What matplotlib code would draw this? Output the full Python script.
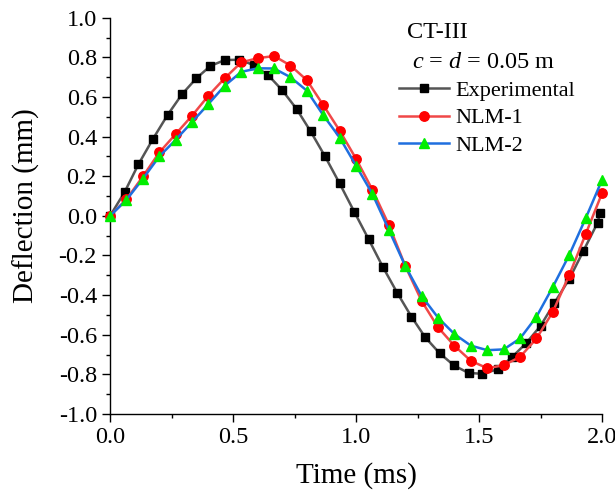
import numpy as np
import matplotlib
matplotlib.use('Agg')
import matplotlib.pyplot as plt
from matplotlib.ticker import MultipleLocator, FormatStrFormatter

plt.rcParams['font.family'] = ['Liberation Serif', 'DejaVu Serif']
plt.rcParams['mathtext.fontset'] = 'custom'
plt.rcParams['mathtext.rm'] = 'Liberation Serif'
plt.rcParams['mathtext.it'] = 'Liberation Serif:italic'

t_exp = [0, 0.059, 0.115, 0.175, 0.234, 0.293, 0.351, 0.408, 0.467, 0.525,
         0.583, 0.643, 0.700, 0.758, 0.815, 0.874, 0.933, 0.992, 1.051, 1.108,
         1.167, 1.225, 1.281, 1.340, 1.398, 1.457, 1.513, 1.575, 1.633, 1.691,
         1.750, 1.805, 1.867, 1.924, 1.982, 1.992]
y_exp = [0, 0.12, 0.26, 0.39, 0.51, 0.615, 0.695, 0.757, 0.787, 0.788,
         0.762, 0.710, 0.634, 0.540, 0.427, 0.300, 0.164, 0.022, -0.118, -0.256,
         -0.388, -0.509, -0.613, -0.694, -0.755, -0.793, -0.797, -0.775, -0.714, -0.643,
         -0.555, -0.442, -0.318, -0.177, -0.034, 0.017]

# NLM models, sampled every 1/15 ms
t_nlm = [k / 15 for k in range(31)]
y_nlm1 = [0, 0.084, 0.199, 0.320, 0.413, 0.506, 0.607, 0.696, 0.775, 0.796,
          0.807, 0.759, 0.685, 0.559, 0.430, 0.288, 0.131, -0.046, -0.253, -0.430,
          -0.563, -0.656, -0.732, -0.769, -0.754, -0.712, -0.619, -0.484, -0.298, -0.092,
          0.115]
y_nlm2 = [0, 0.081, 0.187, 0.300, 0.384, 0.474, 0.565, 0.658, 0.727, 0.745,
          0.744, 0.700, 0.632, 0.508, 0.395, 0.253, 0.110, -0.071, -0.253, -0.405,
          -0.514, -0.597, -0.655, -0.678, -0.674, -0.619, -0.509, -0.358, -0.197, -0.012,
          0.182]

fig = plt.figure(figsize=(6.15, 4.94), dpi=100)
ax = fig.add_axes([0.179, 0.162, 0.800, 0.802])

ax.plot(t_exp, y_exp, color='#555555', lw=1.8, marker='s', ms=6,
        mfc='black', mec='black', label='Experimental', clip_on=False, zorder=3)
ax.plot(t_nlm, y_nlm1, color='#f04848', lw=1.8, marker='o', ms=6.8,
        mfc='#ff0000', mec='#ff0000', label='NLM-1', clip_on=False, zorder=4)
ax.plot(t_nlm, y_nlm2, color='#1f6fdf', lw=1.8, marker='^', ms=7.5,
        mfc='#00ee00', mec='#00ee00', label='NLM-2', clip_on=False, zorder=5)

ax.set_xlim(0, 2.0)
ax.set_ylim(-1.0, 1.0)
ax.xaxis.set_major_locator(MultipleLocator(0.5))
ax.xaxis.set_minor_locator(MultipleLocator(0.25))
ax.yaxis.set_major_locator(MultipleLocator(0.2))
ax.yaxis.set_minor_locator(MultipleLocator(0.1))
ax.xaxis.set_major_formatter(FormatStrFormatter('%.1f'))
ax.yaxis.set_major_formatter(FormatStrFormatter('%.1f'))

for side in ['top', 'right']:
    ax.spines[side].set_visible(False)
for side in ['left', 'bottom']:
    ax.spines[side].set_linewidth(1.0)

ax.tick_params(which='major', direction='out', length=5.5, width=1.0,
               labelsize=17.5, pad=4)
ax.tick_params(which='minor', direction='out', length=3, width=1.0)

ax.set_xlabel('Time (ms)', fontsize=21, labelpad=10)
ax.set_ylabel('Deflection (mm)', fontsize=21)
ax.yaxis.set_label_coords(-0.142, 0.525)

ax.text(0.603, 0.962, 'CT-III', transform=ax.transAxes, fontsize=17.5,
        ha='left', va='center')
ax.text(0.613, 0.886, r'$c$ = $d$ = 0.05 m', transform=ax.transAxes,
        fontsize=17.5, ha='left', va='center')

ax.legend(loc='upper left', bbox_to_anchor=(0.587, 0.842), frameon=False,
          fontsize=16, handlelength=2.25, handletextpad=0.3,
          labelspacing=0.31, borderpad=0, borderaxespad=0)

fig.savefig('out.png', dpi=100)
